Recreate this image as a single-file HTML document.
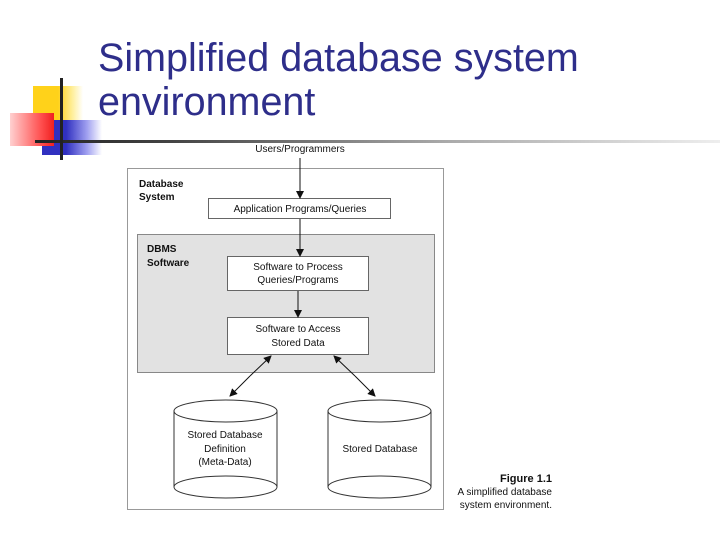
<!DOCTYPE html>
<html><head><style>
body{margin:0;width:720px;height:540px;background:#fff;overflow:hidden;position:relative;font-family:"Liberation Sans",sans-serif}
.t{position:absolute;left:98px;color:#2e2e8a;font-size:39.5px;line-height:44px}
</style></head><body>
<div style="position:absolute;left:33px;top:86px;width:50px;height:34px;background:linear-gradient(90deg,#ffd21a 50%,#fff0a0 80%,#fff)"></div>
<div style="position:absolute;left:42px;top:120px;width:60px;height:35px;background:linear-gradient(90deg,#3030c0 40%,#a0a0f0 75%,#fff)"></div>
<div style="position:absolute;left:10px;top:113px;width:44px;height:33px;background:linear-gradient(90deg,#ffd0d0,#ff5050 70%,#f02020)"></div>
<div style="position:absolute;left:35px;top:140px;width:685px;height:3px;background:linear-gradient(90deg,#222 0%,#444 20%,#aaa 60%,#eee 100%)"></div>
<div style="position:absolute;left:60px;top:78px;width:3px;height:82px;background:#222"></div>
<div class="t" style="top:36px">Simplified database system</div>
<div class="t" style="top:80px">environment</div>
<svg style="position:absolute;left:0;top:0" width="720" height="540" font-family="Liberation Sans, sans-serif" font-size="10" fill="#111">
<defs><marker id="a" markerWidth="8" markerHeight="8" refX="7" refY="4" orient="auto" markerUnits="userSpaceOnUse"><path d="M0,0 L8,4 L0,8 z" fill="#111"/></marker></defs>
<text x="300" y="152" text-anchor="middle">Users/Programmers</text>
<rect x="127.5" y="168.5" width="316" height="341" fill="#fff" stroke="#999"/>
<text x="139" y="187" font-weight="bold">Database</text>
<text x="139" y="200" font-weight="bold">System</text>
<rect x="137.5" y="234.5" width="297" height="138" fill="#e2e2e2" stroke="#888"/>
<text x="147" y="252" font-weight="bold">DBMS</text>
<text x="147" y="266" font-weight="bold">Software</text>
<rect x="208.5" y="198.5" width="182" height="20" fill="#fff" stroke="#666"/>
<text x="300" y="212" text-anchor="middle">Application Programs/Queries</text>
<rect x="227.5" y="256.5" width="141" height="34" fill="#fff" stroke="#666"/>
<text x="298" y="270" text-anchor="middle">Software to Process</text>
<text x="298" y="283" text-anchor="middle">Queries/Programs</text>
<rect x="227.5" y="317.5" width="141" height="37" fill="#fff" stroke="#666"/>
<text x="298" y="332" text-anchor="middle">Software to Access</text>
<text x="298" y="346" text-anchor="middle">Stored Data</text>
<g stroke="#111" fill="none">
<line x1="300" y1="158" x2="300" y2="198" marker-end="url(#a)"/>
<line x1="300" y1="219" x2="300" y2="256" marker-end="url(#a)"/>
<line x1="298" y1="291" x2="298" y2="317" marker-end="url(#a)"/>
<line x1="250" y1="376" x2="271" y2="356" marker-end="url(#a)"/>
<line x1="250" y1="376" x2="230" y2="396" marker-end="url(#a)"/>
<line x1="355" y1="376" x2="334" y2="356" marker-end="url(#a)"/>
<line x1="355" y1="376" x2="375" y2="396" marker-end="url(#a)"/>
</g>
<g stroke="#333" fill="#fff">
<path d="M174,411 L174,487 A51.5,11 0 0 0 277,487 L277,411"/>
<ellipse cx="225.5" cy="411" rx="51.5" ry="11"/>
<path d="M174,487 A51.5,11 0 0 1 277,487" fill="none"/>
<path d="M328,411 L328,487 A51.5,11 0 0 0 431,487 L431,411"/>
<ellipse cx="379.5" cy="411" rx="51.5" ry="11"/>
<path d="M328,487 A51.5,11 0 0 1 431,487" fill="none"/>
</g>
<text x="225" y="438" text-anchor="middle">Stored Database</text>
<text x="225" y="452" text-anchor="middle">Definition</text>
<text x="225" y="465" text-anchor="middle">(Meta-Data)</text>
<text x="380" y="452" text-anchor="middle">Stored Database</text>
<text x="552" y="482" text-anchor="end" font-weight="bold" font-size="11">Figure 1.1</text>
<text x="552" y="495" text-anchor="end">A simplified database</text>
<text x="552" y="508" text-anchor="end">system environment.</text>
</svg>
</body></html>
